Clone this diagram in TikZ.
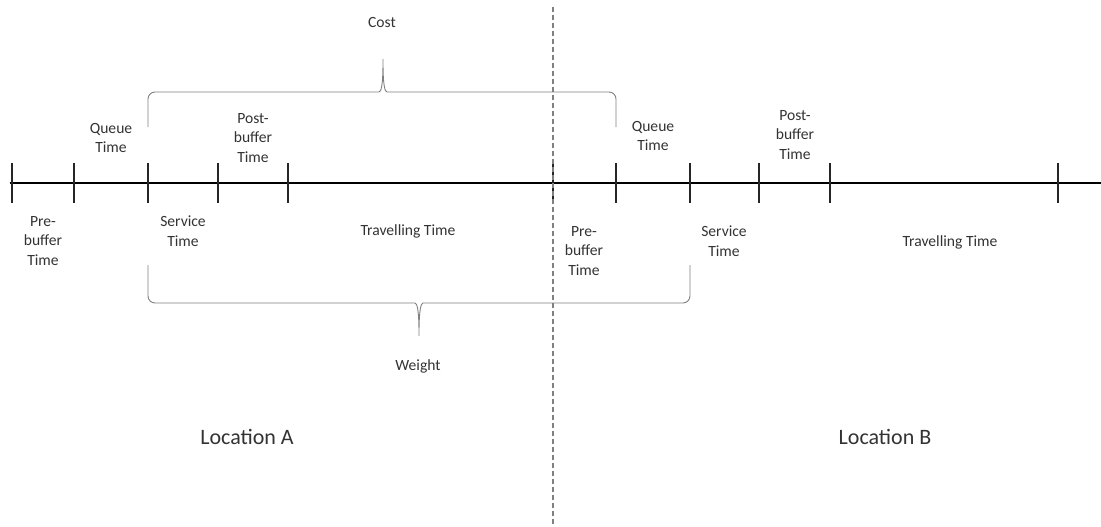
\documentclass[tikz,border=0pt]{standalone}
\usepackage{fontspec}
\setmainfont{Carlito}
\usetikzlibrary{positioning}

\begin{document}
\begin{tikzpicture}[
  x=1pt, y=-1pt,
  font=\fontsize{15.6}{19.5}\selectfont,
  lbl/.style={align=center, inner sep=0pt, text=black!80},
  loc/.style={inner sep=0pt, text=black!80, font=\fontsize{22}{26}\selectfont},
  tickmark/.style={line width=1.5pt, black!85},
  brc/.style={draw=black!50, line width=0.9pt, rounded corners=7pt}
]
\useasboundingbox (0,0) rectangle (1101,527);

% time axis and its ticks
\coordinate (start) at (10,183);
\coordinate (stop) at (1101,183);
\draw[line width=1.8pt] (start) -- (stop);
\foreach \name/\xx in {t0/12, t1/74, t2/148, t3/218, t4/288, t5/553, t6/616, t7/690, t8/759, t9/830, t10/1058} {
  \coordinate (\name) at (\xx,183);
  \draw[tickmark] (\name) ++(0,-20) -- ++(0,40);
}

% border between the two locations
\coordinate (sepTop) at (553,7);
\coordinate (sepBot) at (553,527);
\draw[black!50, line width=1.1pt, dash pattern=on 5pt off 3pt] (sepTop) -- (sepBot);

% segment labels, location A
\node[lbl] (preA) at (43,241) {Pre-\\buffer\\Time};
\node[lbl] (queA) at (111,138) {Queue\\Time};
\node[lbl] (serA) at (183,231) {Service\\Time};
\node[lbl] (posA) at (253,138) {Post-\\buffer\\Time};
\node[lbl] (traA) at (408,231) {Travelling Time};

% segment labels, location B
\node[lbl] (preB) at (584,251) {Pre-\\buffer\\Time};
\node[lbl] (queB) at (653,136) {Queue\\Time};
\node[lbl] (serB) at (724,241) {Service\\Time};
\node[lbl] (posB) at (795,135) {Post-\\buffer\\Time};
\node[lbl] (traB) at (950,242) {Travelling Time};

% cost brace
\coordinate (costL) at (148,127);
\coordinate (costR) at (616,127);
\coordinate (costTip) at (383,55);
\draw[brc] (costL) -- (148,92) -- (372,92) .. controls (381,92) and (383,86) .. (costTip)
  .. controls (383,86) and (385,92) .. (394,92) -- (616,92) -- (costR);
\node[lbl] (cost) at (382,22) {Cost};

% weight brace
\coordinate (wgtL) at (148,265);
\coordinate (wgtR) at (690,265);
\coordinate (wgtTip) at (419,340);
\draw[brc] (wgtL) -- (148,303) -- (408,303) .. controls (417,303) and (419,310) .. (wgtTip)
  .. controls (419,310) and (421,303) .. (430,303) -- (690,303) -- (wgtR);
\node[lbl] (wgt) at (418,366) {Weight};

\node[loc] (locA) at (247,437) {Location A};
\node[loc] (locB) at (885,437) {Location B};
\end{tikzpicture}
\end{document}
